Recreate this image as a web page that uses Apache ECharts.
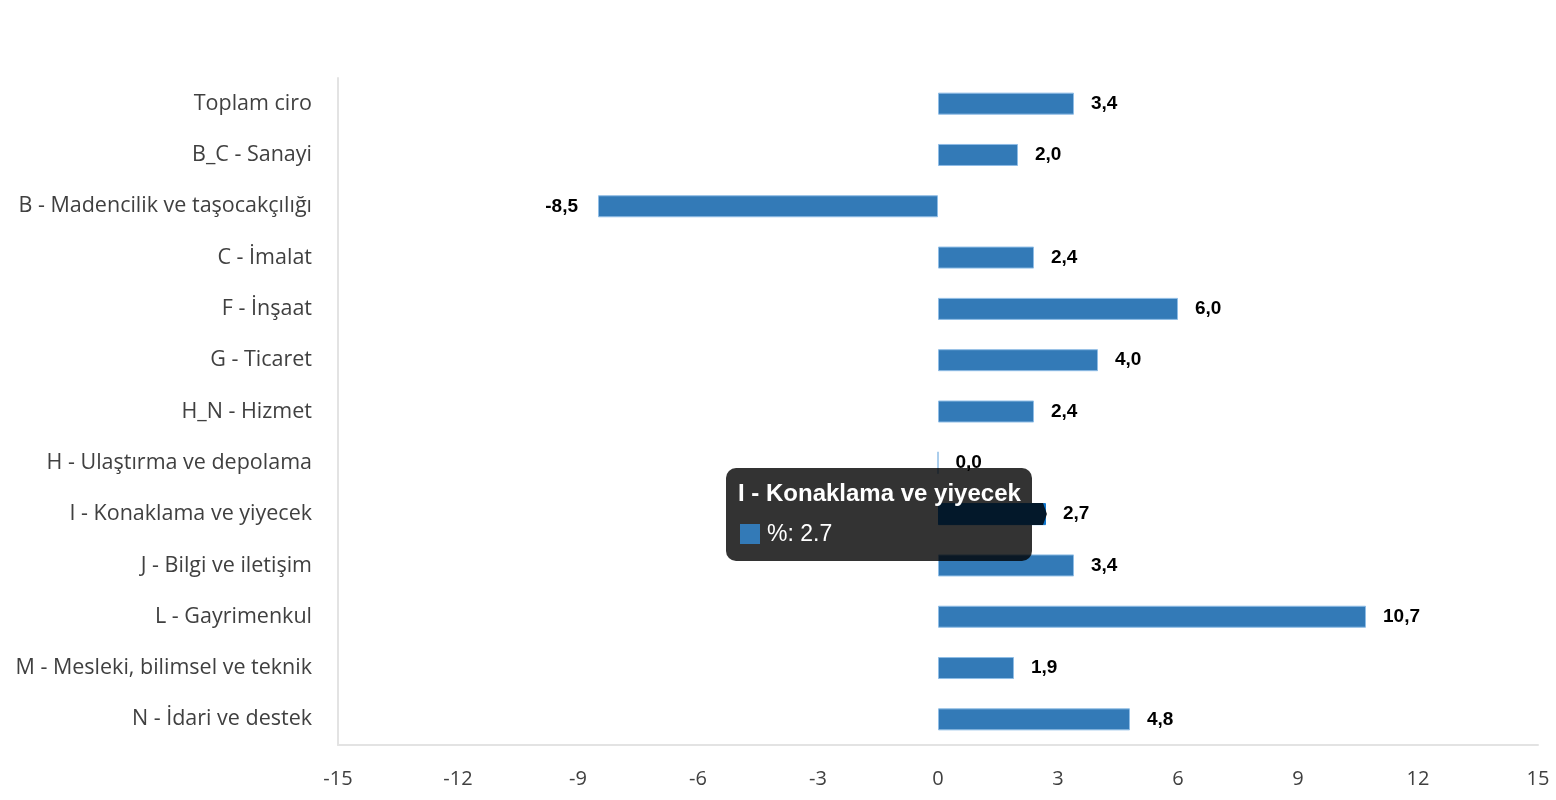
<!DOCTYPE html>
<html>
<head>
<meta charset="utf-8">
<script src="https://cdn.jsdelivr.net/npm/echarts@6/dist/echarts.min.js"></script>
<style>
html,body{margin:0;padding:0;background:#fff;}
#main{width:1556px;height:800px;}
</style>
</head>
<body>
<div id="main"></div>
<script>
const categories = [
  "Toplam ciro",
  "B_C - Sanayi",
  "B - Madencilik ve taşocakçılığı",
  "C - İmalat",
  "F - İnşaat",
  "G - Ticaret",
  "H_N - Hizmet",
  "H - Ulaştırma ve depolama",
  "I - Konaklama ve yiyecek",
  "J - Bilgi ve iletişim",
  "L - Gayrimenkul",
  "M - Mesleki, bilimsel ve teknik",
  "N - İdari ve destek"
];
const values = [3.4, 2.0, -8.5, 2.4, 6.0, 4.0, 2.4, 0.0, 2.7, 3.4, 10.7, 1.9, 4.8];
const seriesName = "%";
const xTicks = { min: -15, max: 15, interval: 3 };
const highlightedIndex = 8;

const chart = echarts.init(document.getElementById('main'));
const barColor = '#337ab7';

const labelBase = {
  show: true,
  fontFamily: "'Liberation Sans',Arial,sans-serif",
  fontWeight: 'bold',
  fontSize: 19,
  color: '#000',
  formatter: p => p.value.toFixed(1).replace('.', ',')
};

chart.setOption({
  animation: false,
  grid: { left: 338, right: 18, top: 78, bottom: 55, containLabel: false },
  tooltip: {
    trigger: 'item',
    alwaysShowContent: true,
    triggerOn: 'none',
    backgroundColor: 'rgba(0,0,0,0.8)',
    borderWidth: 0,
    padding: 0,
    extraCssText: 'border-radius:10px;box-shadow:none;overflow:visible;',
    position: function () { return [726, 468]; },
    formatter: function (p) {
      const v = String(p.value);
      return '<div style="position:relative;width:306px;height:93px;font-family:\'Liberation Sans\',Arial,sans-serif;color:#fff;">' +
        '<div style="position:absolute;left:12px;top:11px;font-size:24px;font-weight:bold;line-height:28px;white-space:nowrap;">' + p.name + '</div>' +
        '<div style="position:absolute;left:14px;top:56px;width:20px;height:20px;background:' + barColor + ';"></div>' +
        '<div style="position:absolute;left:41px;top:51px;font-size:23px;line-height:28px;">' + p.seriesName + ': ' + v + '</div>' +
        '<div style="position:absolute;right:-15px;top:35px;width:15px;height:22px;background:rgba(0,0,0,0.8);clip-path:polygon(0 0,11px 0,15px 50%,11px 100%,0 100%);"></div>' +
        '</div>';
    }
  },
  xAxis: {
    type: 'value',
    min: xTicks.min, max: xTicks.max, interval: xTicks.interval,
    axisLine: { show: true, lineStyle: { color: '#e3e3e3', width: 2 } },
    axisTick: { show: false },
    splitLine: { show: false },
    axisLabel: {
      margin: 24,
      fontFamily: "'Open Sans','Noto Sans',sans-serif",
      fontSize: 20,
      color: '#404040'
    }
  },
  yAxis: {
    type: 'category',
    data: categories,
    inverse: true,
    axisLine: { show: true, onZero: false, lineStyle: { color: '#e3e3e3', width: 2 } },
    axisTick: { show: false },
    splitLine: { show: false },
    axisLabel: {
      margin: 26,
      fontFamily: "'Open Sans','Noto Sans',sans-serif",
      fontSize: 21.5,
      color: '#404040'
    }
  },
  series: [{
    name: seriesName,
    type: 'bar',
    data: values.map((v, i) => {
      const item = { value: v };
      if (i === highlightedIndex) item.itemStyle = { color: '#0f78d0', borderColor: '#0f78d0' };
      if (v < 0) item.label = { position: 'left', distance: 20 };
      return item;
    }),
    barWidth: 22,
    itemStyle: { color: barColor, borderColor: '#8fbde6', borderWidth: 1 },
    emphasis: { disabled: true },
    label: Object.assign({ position: 'right', distance: 17 }, labelBase)
  }]
});

chart.dispatchAction({ type: 'showTip', seriesIndex: 0, dataIndex: highlightedIndex });
</script>
</body>
</html>
